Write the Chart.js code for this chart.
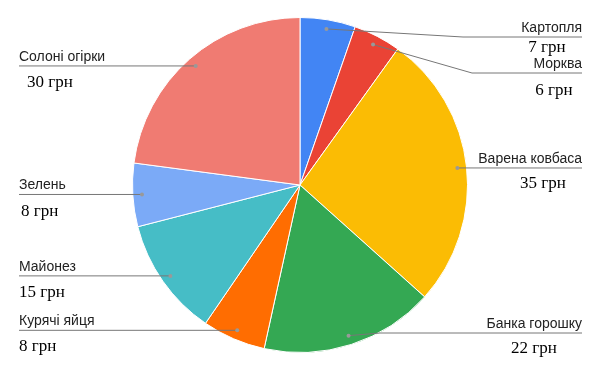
<!DOCTYPE html>
<html>
<head>
<meta charset="utf-8">
<script src="https://cdn.jsdelivr.net/npm/chart.js@4/dist/chart.umd.min.js"></script>
<style>
html,body{margin:0;padding:0;background:#fff;}
#wrap{width:600px;height:371px;position:relative;}
</style>
</head>
<body>
<div id="wrap"><canvas id="c" width="600" height="371"></canvas></div>
<script>
const categories = ["Картопля", "Морква", "Варена ковбаса", "Банка горошку", "Курячі яйця", "Майонез", "Зелень", "Солоні огірки"];
const prices = [7, 6, 35, 22, 8, 15, 8, 30];
const unit = "грн";
const colors = ["#4285F4", "#EA4335", "#FBBC04", "#34A853", "#FF6D01", "#46BDC6", "#7BAAF7", "#F07B72"];

// label layout (side, line y, bend x, value text x, value offset below line)
const labelLayout = [
  {side: "right", lineY: 37, bendX: 463, valX: 547, valDy: 15},
  {side: "right", lineY: 73, bendX: 472, valX: 554, valDy: 22},
  {side: "right", lineY: 168, bendX: null, valX: 543, valDy: 20},
  {side: "right", lineY: 333, bendX: 380, valX: 534, valDy: 20},
  {side: "left", lineY: null, bendX: null, valX: 19, valDy: 21},
  {side: "left", lineY: null, bendX: null, valX: 19, valDy: 21},
  {side: "left", lineY: null, bendX: null, valX: 21, valDy: 22},
  {side: "left", lineY: null, bendX: null, valX: 27, valDy: 21}
];

const leaderPlugin = {
  id: "leaders",
  afterDatasetsDraw(chart) {
    const ctx = chart.ctx;
    const meta = chart.getDatasetMeta(0);
    meta.data.forEach((arc, i) => {
      const p = arc.getProps(["x", "y", "startAngle", "endAngle", "outerRadius"], true);
      const mid = (p.startAngle + p.endAngle) / 2;
      const r = p.outerRadius * 0.945;
      const dx = p.x + Math.cos(mid) * r;
      const dy = p.y + Math.sin(mid) * r;
      const L = labelLayout[i];
      const ly = L.lineY == null ? dy : L.lineY;
      ctx.save();
      ctx.strokeStyle = "#777777";
      ctx.lineWidth = 1;
      ctx.beginPath();
      ctx.moveTo(dx, dy);
      if (L.side === "right") {
        if (L.bendX != null) ctx.lineTo(L.bendX, ly);
        ctx.lineTo(582, ly);
      } else {
        ctx.lineTo(19, ly);
      }
      ctx.stroke();
      ctx.fillStyle = "#999999";
      ctx.beginPath();
      ctx.arc(dx, dy, 2, 0, Math.PI * 2);
      ctx.fill();
      // name
      ctx.fillStyle = "#222222";
      ctx.font = "14px 'Liberation Sans', Arial, sans-serif";
      ctx.textBaseline = "alphabetic";
      if (L.side === "right") {
        ctx.textAlign = "right";
        ctx.fillText(categories[i], 582, ly - 5);
        ctx.textAlign = "center";
      } else {
        ctx.textAlign = "left";
        ctx.fillText(categories[i], 19, ly - 5);
      }
      ctx.fillStyle = "#000000";
      ctx.font = "17px 'Liberation Serif', 'Times New Roman', serif";
      ctx.fillText(prices[i] + " " + unit, L.valX, ly + L.valDy);
      ctx.restore();
    });
  }
};

new Chart(document.getElementById("c"), {
  type: "pie",
  data: {
    labels: categories,
    datasets: [{
      data: prices,
      backgroundColor: colors,
      borderColor: "#ffffff",
      borderWidth: 1
    }]
  },
  options: {
    responsive: false,
    animation: false,
    layout: {padding: {top: 17, bottom: 18, left: 0, right: 0}},
    plugins: {legend: {display: false}, tooltip: {enabled: false}}
  },
  plugins: [leaderPlugin]
});
</script>
</body>
</html>
